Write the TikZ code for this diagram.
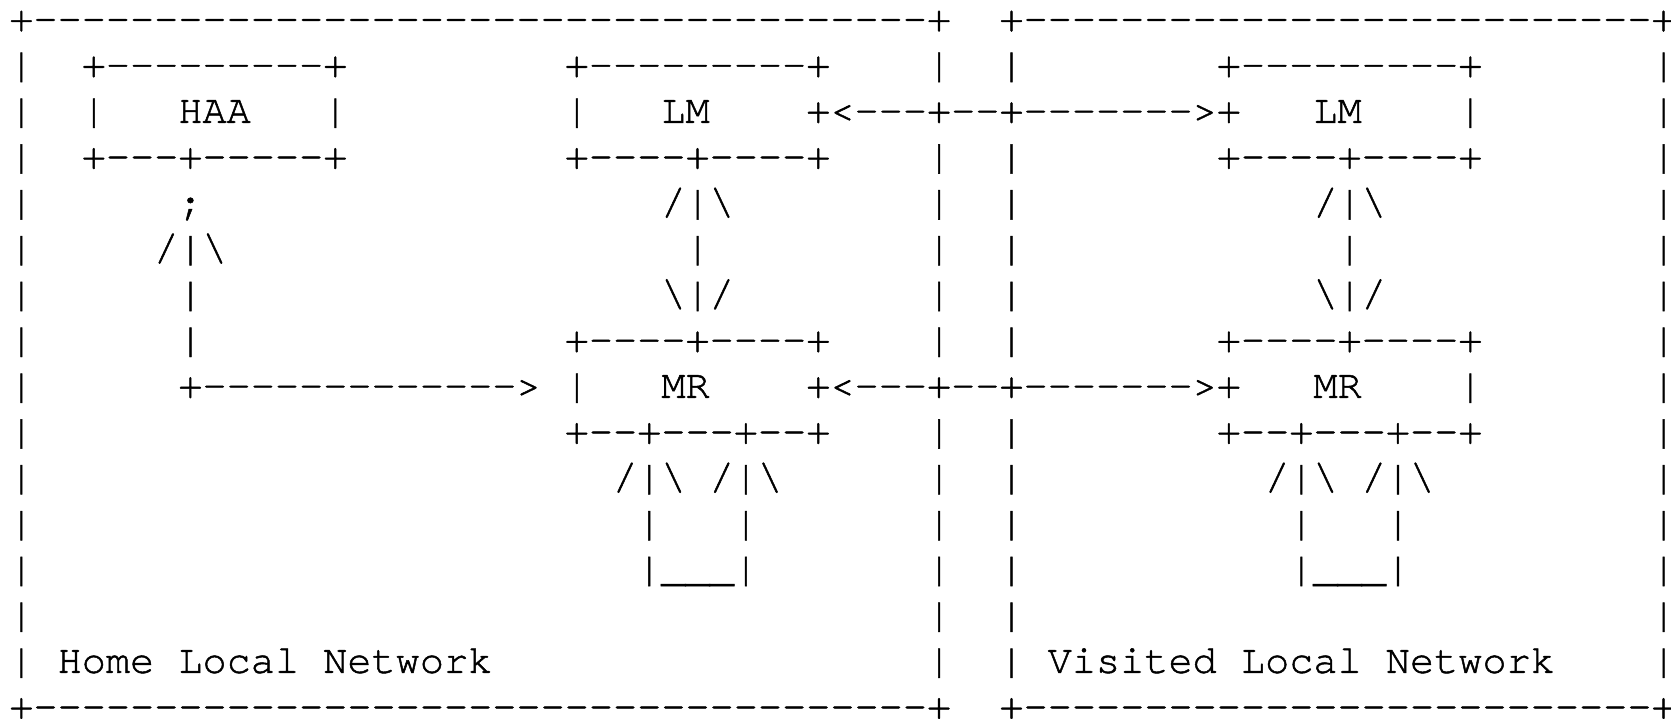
\documentclass[tikz,border=0pt]{standalone}
\usepackage{fontspec}
\setmonofont{texgyrecursor-regular.otf}[FakeBold=1.2]
\ExplSyntaxOn
\NewDocumentCommand\rep{mm}{\prg_replicate:nn{#1}{#2}}
\ExplSyntaxOff
% blank run of #1 character cells
\newcommand\gap[1]{\hspace*{\dimexpr 0.6em*#1\relax}}
% one line of the text drawing, row #2 of the grid
\newcommand\asciirow[3]{\node[ascii] (#1) at (9.3,{31.2+45.83*#2}) {#3};}
\begin{document}
\begin{tikzpicture}[x=0.5pt,y=-0.5pt,
  ascii/.style={anchor=base west,inner sep=0pt,outer sep=0pt,text=black,
    font=\ttfamily\fontsize{20.125pt}{23pt}\selectfont\frenchspacing}]
\useasboundingbox[fill=white] (0,0) rectangle (1671,718);
\asciirow{r0}{0}{+\rep{37}{-}+\gap{2}+\rep{26}{-}+}
\asciirow{r1}{1}{|\gap{2}+\rep{9}{-}+\gap{9}+\rep{9}{-}+\gap{4}|\gap{2}|\gap{8}+\rep{9}{-}+\gap{7}|}
\asciirow{r2}{2}{|\gap{2}|\gap{3}HAA\gap{3}|\gap{9}|\gap{3}LM\gap{4}+<\rep{3}{-}+\rep{2}{-}+\rep{7}{-}>+\gap{3}LM\gap{4}|\gap{7}|}
\asciirow{r3}{3}{|\gap{2}+\rep{3}{-}+\rep{5}{-}+\gap{9}+\rep{4}{-}+\rep{4}{-}+\gap{4}|\gap{2}|\gap{8}+\rep{4}{-}+\rep{4}{-}+\gap{7}|}
\asciirow{r4}{4}{|\gap{6};\gap{19}/|\textbackslash\gap{8}|\gap{2}|\gap{12}/|\textbackslash\gap{11}|}
\asciirow{r5}{5}{|\gap{5}/|\textbackslash\gap{19}|\gap{9}|\gap{2}|\gap{13}|\gap{12}|}
\asciirow{r6}{6}{|\gap{6}|\gap{19}\textbackslash|/\gap{8}|\gap{2}|\gap{12}\textbackslash|/\gap{11}|}
\asciirow{r7}{7}{|\gap{6}|\gap{15}+\rep{4}{-}+\rep{4}{-}+\gap{4}|\gap{2}|\gap{8}+\rep{4}{-}+\rep{4}{-}+\gap{7}|}
\asciirow{r8}{8}{|\gap{6}+\rep{13}{-}>\gap{1}|\gap{3}MR\gap{4}+<\rep{3}{-}+\rep{2}{-}+\rep{7}{-}>+\gap{3}MR\gap{4}|\gap{7}|}
\asciirow{r9}{9}{|\gap{22}+\rep{2}{-}+\rep{3}{-}+\rep{2}{-}+\gap{4}|\gap{2}|\gap{8}+\rep{2}{-}+\rep{3}{-}+\rep{2}{-}+\gap{7}|}
\asciirow{r10}{10}{|\gap{24}/|\textbackslash\gap{1}/|\textbackslash\gap{6}|\gap{2}|\gap{10}/|\textbackslash\gap{1}/|\textbackslash\gap{9}|}
\asciirow{r11}{11}{|\gap{25}|\gap{3}|\gap{7}|\gap{2}|\gap{11}|\gap{3}|\gap{10}|}
\asciirow{r12}{12}{|\gap{25}|\rep{3}{\_}|\gap{7}|\gap{2}|\gap{11}|\rep{3}{\_}|\gap{10}|}
\asciirow{r13}{13}{|\gap{37}|\gap{2}|\gap{26}|}
\asciirow{r14}{14}{|\gap{1}Home Local Network\gap{18}|\gap{2}|\gap{1}Visited Local Network\gap{4}|}
\asciirow{r15}{15}{+\rep{37}{-}+\gap{2}+\rep{26}{-}+}
\end{tikzpicture}
\end{document}
